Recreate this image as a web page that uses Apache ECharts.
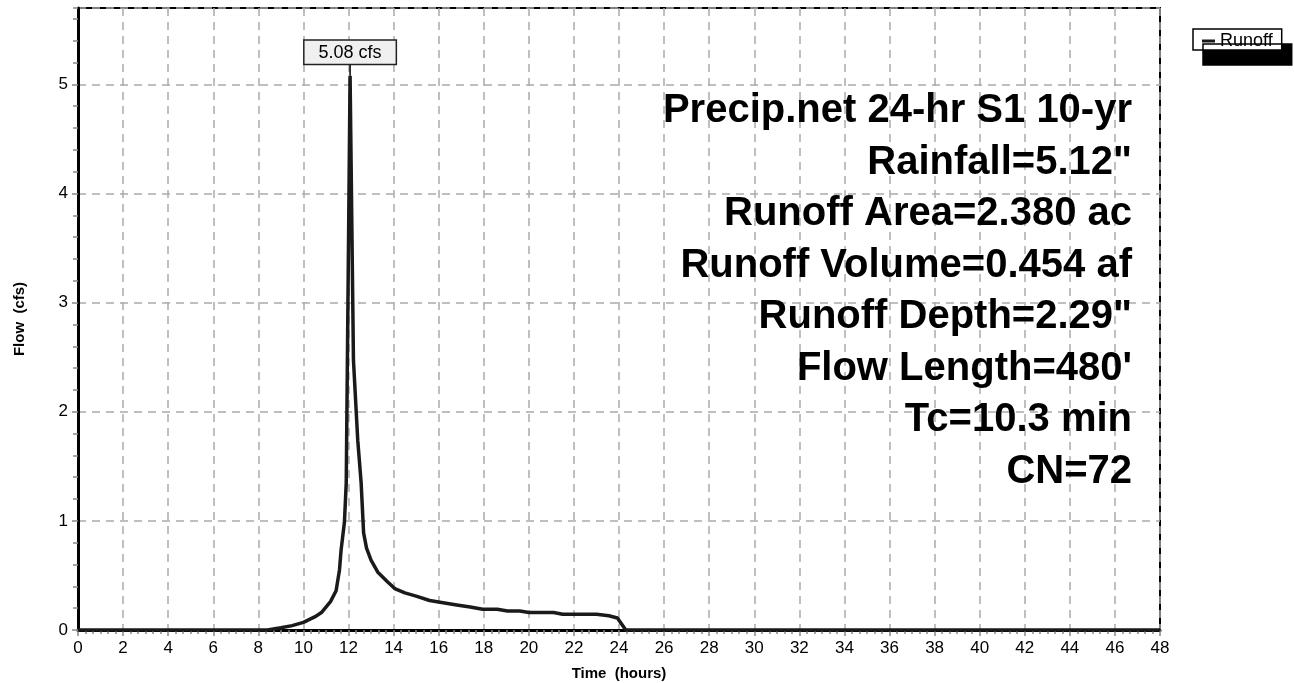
<!DOCTYPE html>
<html>
<head>
<meta charset="utf-8">
<style>
  html, body { margin: 0; padding: 0; background: #fff; }
  #chart { width: 1294px; height: 683px; }
</style>
<script src="https://cdn.jsdelivr.net/npm/echarts@6/dist/echarts.min.js"></script>
</head>
<body>
<div id="chart"></div>
<script>
// hydrograph (hours / cfs)
const times = [0, 8.4, 9, 9.5, 10, 10.5, 10.8, 11, 11.2, 11.45, 11.6, 11.67, 11.82, 11.9, 12.07,
  12.22, 12.41, 12.56, 12.67, 12.8, 13.0, 13.3, 13.74, 14.05, 14.5, 15, 15.6, 16.2, 16.8, 17.4,
  17.95, 18.6, 19.05, 19.6, 20.0, 21.1, 21.5, 23.0, 23.55, 23.93, 24.3, 48];
const flows = [0, 0, 0.02, 0.04, 0.07, 0.12, 0.16, 0.21, 0.26, 0.36, 0.55, 0.73, 0.99, 1.35, 5.08,
  2.47, 1.74, 1.35, 0.89, 0.75, 0.64, 0.53, 0.44, 0.38, 0.34, 0.31, 0.27, 0.25, 0.23, 0.21,
  0.19, 0.19, 0.175, 0.175, 0.16, 0.16, 0.145, 0.145, 0.13, 0.11, 0, 0];
const notes = [
  'Precip.net 24-hr S1 10-yr',
  'Rainfall=5.12"',
  'Runoff Area=2.380 ac',
  'Runoff Volume=0.454 af',
  'Runoff Depth=2.29"',
  "Flow Length=480'",
  'Tc=10.3 min',
  'CN=72'
];

const font = '"Liberation Sans", Arial, Helvetica, sans-serif';
const gridLine = { show: true, lineStyle: { color: '#aaaaaa', width: 1.5, type: [8, 6] } };

let peakIdx = 0;
flows.forEach((v, i) => { if (v > flows[peakIdx]) peakIdx = i; });

const myChart = echarts.init(document.getElementById('chart'));
myChart.setOption({
  animation: false,
  textStyle: { fontFamily: font },
  grid: {
    left: 78, top: 8, right: 134, bottom: 53,
    outerBoundsMode: 'none', containLabel: false,
    show: true, borderColor: '#000', borderWidth: 2, backgroundColor: 'transparent'
  },
  legend: {
    data: ['Runoff'],
    left: 1193, top: 29,
    padding: [3, 9, 0, 9],
    itemWidth: 13, itemHeight: 3, icon: 'rect',
    backgroundColor: '#fff', borderColor: '#000', borderWidth: 1.5,
    shadowColor: '#000', shadowBlur: 0, shadowOffsetX: 10, shadowOffsetY: 15,
    textStyle: { fontSize: 18, lineHeight: 17, color: '#000', fontFamily: font }
  },
  xAxis: {
    type: 'value', min: 0, max: 48, interval: 2,
    name: 'Time  (hours)', nameLocation: 'middle', nameGap: 36,
    nameTextStyle: { fontSize: 15, fontWeight: 'bold', color: '#000' },
    axisLine: { show: true, onZero: false, lineStyle: { color: '#000', width: 3 } },
    axisTick: { show: true, length: 6, lineStyle: { color: '#888', width: 1.5 } },
    minorTick: { show: true, splitNumber: 6, length: 4, lineStyle: { color: '#888', width: 1.5 } },
    axisLabel: { fontSize: 17, color: '#000', margin: 10 },
    splitLine: gridLine
  },
  yAxis: [{
    type: 'value', min: 0, max: 5.7, interval: 1,
    name: 'Flow  (cfs)', nameLocation: 'middle', nameGap: 51,
    nameTextStyle: { fontSize: 15, fontWeight: 'bold', color: '#000' },
    axisLine: { show: true, lineStyle: { color: '#000', width: 3 } },
    axisTick: { show: true, length: 6, lineStyle: { color: '#888', width: 1.5 } },
    axisLabel: { fontSize: 17, color: '#000', margin: 10, showMaxLabel: false },
    splitLine: gridLine
  }, {
    // only here for the 0.2 minor ticks
    type: 'value', position: 'left', min: 0, max: 5.7, interval: 0.2,
    axisLine: { show: false },
    axisTick: { show: true, length: 5, lineStyle: { color: '#888', width: 1.5 } },
    axisLabel: { show: false },
    splitLine: { show: false }
  }],
  graphic: notes.map((t, i) => ({
    type: 'text', right: 162, top: 91 + i * 51.5, z: 10,
    style: { text: t, font: 'bold 40px ' + font, fill: '#000', textAlign: 'right' }
  })),
  series: [{
    name: 'Runoff',
    type: 'line',
    data: times.map((t, i) => [t, flows[i]]),
    showSymbol: false,
    smooth: false,
    lineStyle: { color: '#1a1a1a', width: 3.5 },
    itemStyle: { color: '#1a1a1a' },
    markPoint: {
      symbol: 'rect', symbolSize: [1.5, 12], symbolOffset: [0, -6],
      itemStyle: { color: '#000' },
      label: {
        show: true, position: 'top', distance: 0,
        formatter: flows[peakIdx].toFixed(2) + ' cfs',
        fontSize: 18, color: '#000', fontFamily: font,
        backgroundColor: '#f0f0f0', borderColor: '#222', borderWidth: 1.5,
        padding: [3, 14, 2, 14]
      },
      data: [{ coord: [times[peakIdx], flows[peakIdx]] }]
    }
  }]
});
</script>
</body>
</html>
